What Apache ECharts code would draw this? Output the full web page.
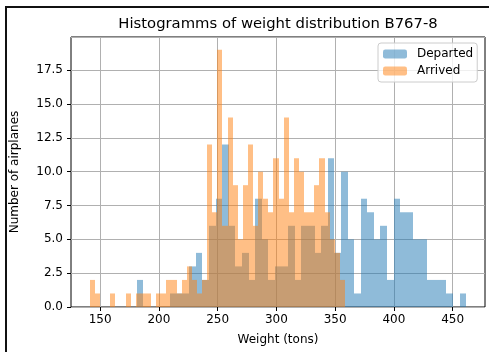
<!DOCTYPE html>
<html><head><meta charset="utf-8">
<script src="https://cdn.jsdelivr.net/npm/echarts@6/dist/echarts.min.js"></script>
<style>html,body{margin:0;padding:0;background:#fff}#c{width:489px;height:352px}</style>
</head><body><div id="c"></div>
<script>
// Histogram bins (tons) and counts
const departedStart = 181.0;
const departedWidth = 5.61;
const departedCounts = [2,0,0,0,0,1,1,1,3,4, 2,6,8,12,6,3,4,2,8,5, 2,3,3,6,2,6,6,4,6,11, 4,10,5,1,8,7,5,6,2,8, 7,7,5,5,2,2,2,1,0,1];
const arrivedStart = 141.2;
const arrivedWidth = 4.342;
const arrivedCounts = [2,1,0,0,1,0,0,1,0,1, 1,1,0,1,1,2,2,1,2,3, 2,1,2,12,7,19,6,14,9,5, 9,12,6,10,8,7,11,8,14,7, 11,10,7,7,9,11,7,5,4,2];
const xTicks = [150,200,250,300,350,400,450];
const seriesNames = ['Departed','Arrived'];
const titleText = 'Histogramms of weight distribution B767-8';
const xName = 'Weight (tons)';
const yName = 'Number of airplanes';

function bins(start, width, counts) {
  return counts.map((c, i) => [start + i * width, start + (i + 1) * width, c]);
}
function renderBar(params, api) {
  const x0 = api.value(0), x1 = api.value(1), c = api.value(2);
  if (!c) return null;
  const p0 = api.coord([x0, c]);
  const p1 = api.coord([x1, 0]);
  const l = Math.round(p0[0]), r = Math.round(p1[0]);
  return {type: 'rect', shape: {x: l, y: p0[1], width: r - l, height: p1[1] - p0[1]},
          style: {fill: api.visual('color')}};
}
const FONT = 'DejaVu Sans';
const chart = echarts.init(document.getElementById('c'), null, {renderer: 'canvas'});
chart.setOption({
  animation: false,
  backgroundColor: '#fff',
  title: {text: titleText, left: 278, textAlign: 'center', top: 17, padding: 0,
          textStyle: {fontFamily: FONT, fontSize: 14.8, fontWeight: 'normal', color: '#000'}},
  grid: {left: 71, top: 37, width: 414, height: 270, show: true, borderColor: '#000', borderWidth: 1, backgroundColor: 'transparent'},
  legend: {orient: 'vertical', left: 378, top: 43, itemWidth: 24, itemHeight: 9, itemGap: 5,
           padding: [5, 4, 5, 5], backgroundColor: 'rgba(255,255,255,0.8)', borderColor: '#cccccc', borderWidth: 1, borderRadius: 3,
           textStyle: {fontFamily: FONT, fontSize: 12, color: '#000', padding: [0, 0, 0, 5]},
           data: seriesNames},
  xAxis: {type: 'value', min: 125.2, max: 477.5, name: xName, nameLocation: 'middle', nameGap: 27,
          nameTextStyle: {fontFamily: FONT, fontSize: 12, color: '#000'},
          axisLine: {show: false},
          axisTick: {show: true, length: 4, customValues: xTicks, lineStyle: {color: '#000'}},
          axisLabel: {customValues: xTicks, fontFamily: FONT, fontSize: 12, color: '#000', margin: 7},
          splitLine: {show: true, lineStyle: {color: '#b0b0b0', width: 1}}},
  yAxis: {type: 'value', min: 0, max: 19.95, interval: 2.5, name: yName, nameLocation: 'middle', nameGap: 50,
          nameTextStyle: {fontFamily: FONT, fontSize: 12, color: '#000'},
          axisLine: {show: false},
          axisTick: {show: true, length: 4, lineStyle: {color: '#000'}},
          axisLabel: {fontFamily: FONT, fontSize: 12, color: '#000', margin: 8, showMaxLabel: false,
                      formatter: v => (v > 19 ? '' : v.toFixed(1))},
          splitLine: {show: true, lineStyle: {color: '#b0b0b0', width: 1}}},
  series: [
    {name: seriesNames[0], type: 'custom', renderItem: renderBar, itemStyle: {color: 'rgba(31,119,180,0.5)'},
     encode: {x: [0, 1], y: 2}, data: bins(departedStart, departedWidth, departedCounts)},
    {name: seriesNames[1], type: 'custom', renderItem: renderBar, itemStyle: {color: 'rgba(255,127,14,0.5)'},
     encode: {x: [0, 1], y: 2}, data: bins(arrivedStart, arrivedWidth, arrivedCounts)}
  ],
  graphic: [{type: 'rect', silent: true, z: 100, shape: {x: 6, y: 7, width: 700, height: 700},
             style: {fill: null, stroke: '#111', lineWidth: 2}}]
});
</script></body></html>
